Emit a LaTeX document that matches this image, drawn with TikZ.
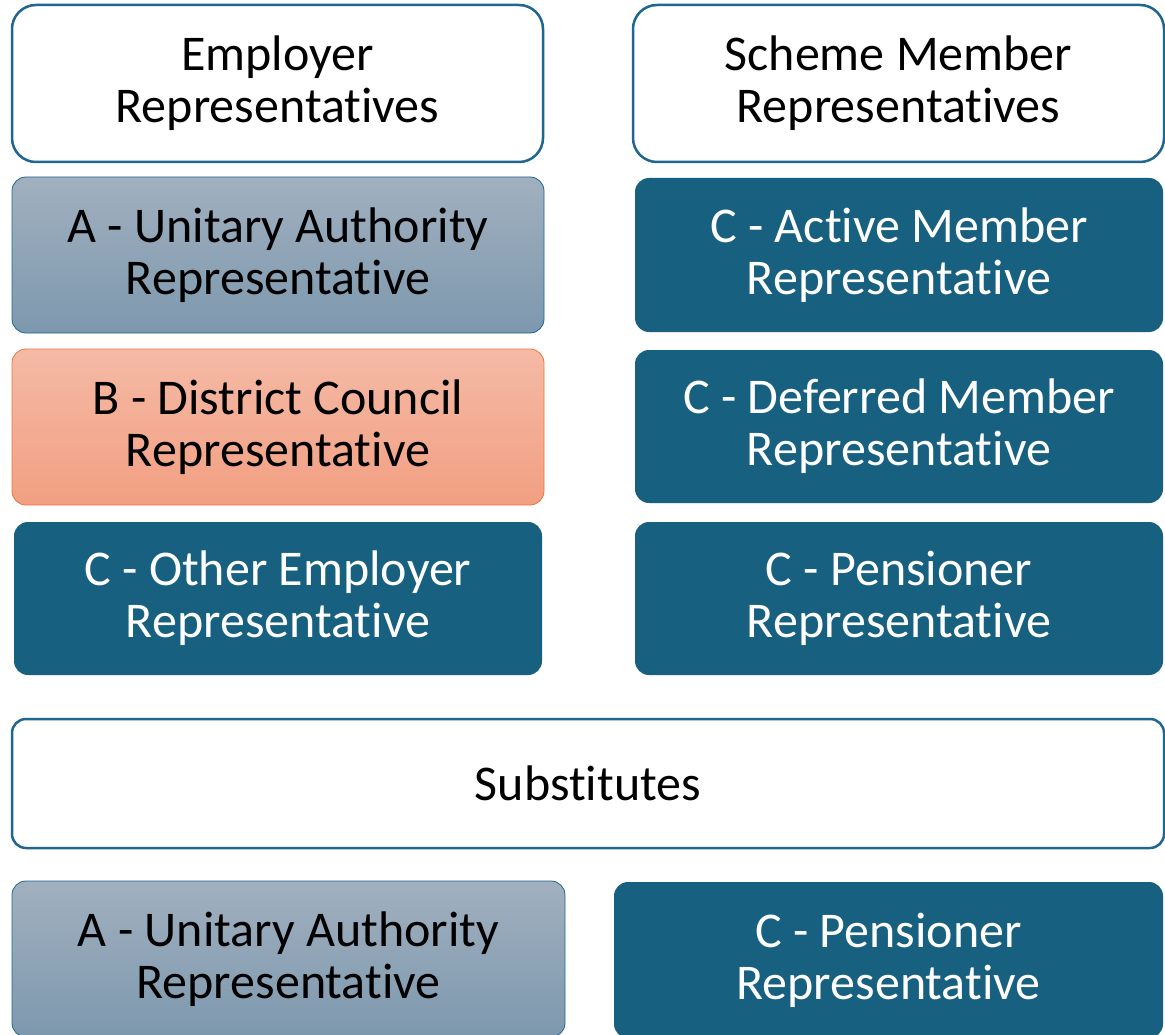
\documentclass[tikz,border=0pt]{standalone}
\usepackage{fontspec}
\setmainfont[Ligatures=NoCommon]{Carlito}
\definecolor{bordblue}{HTML}{1F6690}
\definecolor{cfill}{HTML}{176080}
\definecolor{atop}{HTML}{A1B0BF}
\definecolor{abot}{HTML}{7D98AE}
\definecolor{btop}{HTML}{F5BAA6}
\definecolor{bbot}{HTML}{F29F82}
\definecolor{bbord}{HTML}{E9773F}
\tikzset{
  box/.style={rounded corners=14pt, inner sep=0pt, outer sep=0pt, align=center,
    font=\fontsize{50}{52}\selectfont},
  headbox/.style={box, draw=bordblue, line width=2.5pt, fill=white, rounded corners=24pt, text=black},
  abox/.style={box, draw=bordblue, line width=0.8pt, top color=atop, bottom color=abot, text=black},
  bbox/.style={box, draw=bbord, line width=0.8pt, top color=btop, bottom color=bbot, text=black},
  cbox/.style={box, fill=cfill, text=white},
}
\begin{document}
\begin{tikzpicture}[x=1pt,y=-1pt]
\clip (0,0) rectangle (1165,1035);
\fill[white] (0,0) rectangle (1165,1035);
% header row
\node[headbox, minimum width=531pt, minimum height=157pt] (emp) at (277.5,83.5) {Employer\\Representatives};
\node[headbox, minimum width=531pt, minimum height=157pt] (sch) at (898.5,83.5) {Scheme Member\\Representatives};
% left column
\node[abox, minimum width=532pt, minimum height=156pt] (ua) at (278,255) {A - Unitary Authority\\Representative};
\node[bbox, minimum width=532pt, minimum height=156pt] (dc) at (278,427) {B - District Council\\Representative};
\node[cbox, minimum width=528pt, minimum height=153pt] (oe) at (278,598.5) {C - Other Employer\\Representative};
% right column
\node[cbox, minimum width=528pt, minimum height=154pt] (am) at (899,255) {C - Active Member\\Representative};
\node[cbox, minimum width=528pt, minimum height=153pt] (dm) at (899,426.5) {C - Deferred Member\\Representative};
\node[cbox, minimum width=528pt, minimum height=153pt] (pr) at (899,598.5) {C - Pensioner\\Representative};
% substitutes
\node[headbox, rounded corners=14pt, minimum width=1152pt, minimum height=129pt] (sub) at (588,783.5) {Substitutes};
% bottom row
\node[abox, minimum width=553pt, minimum height=156pt] (ua2) at (288.5,959) {A - Unitary Authority\\Representative};
\node[cbox, minimum width=549pt, minimum height=156pt] (pr2) at (888.5,960) {C - Pensioner\\Representative};
\end{tikzpicture}
\end{document}
